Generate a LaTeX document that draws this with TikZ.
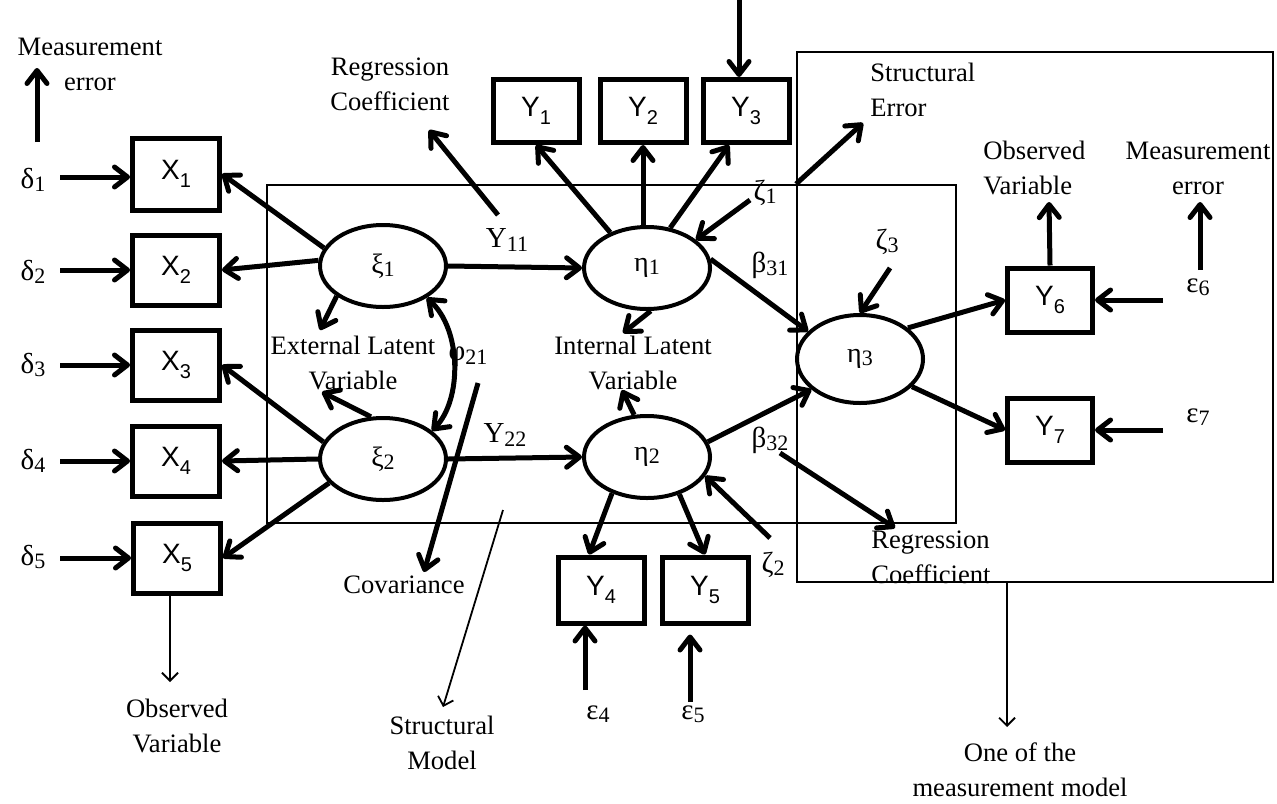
\documentclass[tikz,border=0pt]{standalone}
\usepackage{fontspec}
\setmainfont{Liberation Serif}
\newfontfamily\boxfont{Liberation Sans}
\usetikzlibrary{arrows.meta,shapes.geometric,calc}

% Greek symbol with a small lowered index
\newcommand{\gsub}[2]{#1\raisebox{-0.25ex}{\fontsize{11}{11}\selectfont #2}}
% Variable name in a box, sans serif with subscript
\newcommand{\vsub}[2]{{\boxfont #1\raisebox{-0.55ex}{\fontsize{10}{10}\selectfont #2}}}

\begin{document}
\begin{tikzpicture}[x=0.5pt,y=-0.5pt,
  obs/.style={draw, line width=2.5pt, minimum width=43.5pt, minimum height=35pt, inner sep=0pt, font=\fontsize{14}{15}\selectfont},
  lat/.style={draw, ellipse, line width=2pt, minimum width=63pt, minimum height=41pt, inner sep=0pt, font=\fontsize{14}{15}\selectfont},
  frame/.style={draw, line width=1pt, inner sep=0pt},
  lbl/.style={font=\fontsize{13.3}{17.5}\selectfont, align=center, inner sep=0pt},
  grk/.style={font=\fontsize{14.5}{15}\selectfont, inner sep=0pt},
  arr/.style={line width=2.5pt, -{Straight Barb[round,length=6.5pt,width=10pt]}},
  darr/.style={line width=2.5pt, {Straight Barb[round,length=6.5pt,width=10pt]}-{Straight Barb[round,length=6.5pt,width=10pt]}},
  tarr/.style={line width=0.9pt, -{Straight Barb[length=4pt,width=8pt]}},
]
\useasboundingbox (0,0) rectangle (1277,803);
\fill[white] (0,0) rectangle (1277,803);

% model frames
\node[frame, minimum width=344.5pt, minimum height=169pt] (smodel) at (611.5,354) {};
\node[frame, minimum width=238pt, minimum height=265pt] (mmodel) at (1035,317) {};

% observed variables
\node[obs, minimum height=36pt] (X1) at (176,174) {\vsub{X}{1}};
\node[obs] (X2) at (176,270) {\vsub{X}{2}};
\node[obs] (X3) at (176,365) {\vsub{X}{3}};
\node[obs] (X4) at (176,461) {\vsub{X}{4}};
\node[obs] (X5) at (177,558) {\vsub{X}{5}};
\node[obs, minimum width=43pt, minimum height=31.5pt] (Y1) at (536,111) {\vsub{Y}{1}};
\node[obs, minimum width=43pt, minimum height=31.5pt] (Y2) at (643,111) {\vsub{Y}{2}};
\node[obs, minimum width=43pt, minimum height=31.5pt] (Y3) at (746,111) {\vsub{Y}{3}};
\node[obs, minimum width=43pt, minimum height=33pt] (Y4) at (601,590) {\vsub{Y}{4}};
\node[obs, minimum width=43pt, minimum height=33pt] (Y5) at (705,590) {\vsub{Y}{5}};
\node[obs, minimum width=42.5pt, minimum height=32pt] (Y6) at (1050,300) {\vsub{Y}{6}};
\node[obs, minimum width=42.5pt, minimum height=32pt] (Y7) at (1050,430) {\vsub{Y}{7}};

% latent variables
\node[lat] (xi1) at (383,266) {\gsub{ξ}{1}};
\node[lat] (xi2) at (383,459) {\gsub{ξ}{2}};
\node[lat] (eta1) at (647,268) {\gsub{η}{1}};
\node[lat] (eta2) at (647,457) {\gsub{η}{2}};
\node[lat, minimum height=44pt] (eta3) at (860,359) {\gsub{η}{3}};

% error and coefficient symbols
\node[grk] (d1) at (33,180) {\gsub{δ}{1}};
\node[grk] (d2) at (33,272) {\gsub{δ}{2}};
\node[grk] (d3) at (33,365) {\gsub{δ}{3}};
\node[grk] (d4) at (33,461) {\gsub{δ}{4}};
\node[grk] (d5) at (33,557) {\gsub{δ}{5}};
\node[grk] (g11) at (507,240) {\gsub{Υ}{11}};
\node[grk] (g22) at (505,435) {\gsub{Υ}{22}};
\node[grk] (phi) at (468,357) {\gsub{φ}{21}};
\node[grk] (z1) at (765,193) {\gsub{ζ}{1}};
\node[grk] (z2) at (773,565) {\gsub{ζ}{2}};
\node[grk] (z3) at (887,242) {\gsub{ζ}{3}};
\node[grk] (b31) at (770,265) {\gsub{β}{31}};
\node[grk] (b32) at (770,440) {\gsub{β}{32}};
\node[grk] (e4) at (598,714) {\gsub{ε}{4}};
\node[grk] (e5) at (693,714) {\gsub{ε}{5}};
\node[grk] (e6) at (1198,287) {\gsub{ε}{6}};
\node[grk] (e7) at (1198,417) {\gsub{ε}{7}};

% explanatory texts
\node[lbl] (meL) at (90,64) {Measurement\\error};
\node[lbl] (rcT) at (390,84) {Regression\\Coefficient};
\node[lbl, align=left, anchor=west] (seL) at (870,90) {Structural\\Error};
\node[lbl, align=left, anchor=west] (ovR) at (983,168) {Observed\\Variable};
\node[lbl] (meR) at (1198,168) {Measurement\\error};
\node[lbl] (elv) at (353,363) {External Latent\\Variable};
\node[lbl] (ilv) at (633,363) {Internal Latent\\Variable};
\node[lbl] (cov) at (404,585) {Covariance};
\node[lbl] (ovB) at (177,726) {Observed\\Variable};
\node[lbl] (smL) at (442,743) {Structural\\Model};
\node[lbl, align=left, anchor=west] (rcB) at (871,557) {Regression\\Coefficient};
\node[lbl] (omL) at (1020,770) {One of the\\measurement model};

% free ends of the pointer arrows
\coordinate (da1) at (60,177);
\coordinate (da2) at (60,270);
\coordinate (da3) at (60,365);
\coordinate (da4) at (60,461);
\coordinate (da5) at (60,558);
\coordinate (meA) at (37,142);
\coordinate (meB) at (37,68);
\coordinate (rcA) at (498,215);
\coordinate (rcB1) at (429,130);
\coordinate (seB) at (863,123);
\coordinate (ovTip) at (1049,202);
\coordinate (meRA) at (1200,270);
\coordinate (meRB) at (1200,202);
\coordinate (ea6) at (1163,300);
\coordinate (ea7) at (1163,430);
\coordinate (ea4) at (585,690);
\coordinate (ea5) at (690,702);
\coordinate (za1) at (750,200);
\coordinate (za2) at (770,538);
\coordinate (za3) at (890,268);
\coordinate (topIn) at (739,0);
\coordinate (extA) at (320,330);
\coordinate (extB) at (322,392);
\coordinate (intA) at (623,333);
\coordinate (intB) at (622,390);
\coordinate (bA) at (780,453);
\coordinate (bB) at (895,528);
\coordinate (cvA) at (478,383);
\coordinate (cvB) at (424,572);
\coordinate (smA) at (503,510);
\coordinate (smB) at (443,707);
\coordinate (ovbB) at (170,682);
\coordinate (omB) at (1007,727);

% measurement errors into indicators
\foreach \i in {1,...,5} \draw[arr] (da\i) -- (da\i -| X\i.west);
\draw[arr] (ea6) -- (Y6.east);
\draw[arr] (ea7) -- (Y7.east);
\draw[arr] (ea4) -- (ea4 |- Y4.south);
\draw[arr] (ea5) -- ($(ea5 |- Y5.south)+(0,9)$);
\draw[arr] (topIn) -- (topIn |- Y3.north);

% loadings of the exogenous factors
\draw[arr] (xi1.163) -- (X1.east);
\draw[arr] (xi1.175) -- (X2.east);
\draw[arr] (xi2.164) -- (X3.east);
\draw[arr] (xi2.west) -- (X4.east);
\draw[arr] (xi2.204) -- (X5.east);

% structural paths
\draw[arr] (xi1.east) -- (eta1.west);
\draw[arr] (xi2.east) -- (eta2.west);
\draw[arr] (eta1.8) -- (eta3.152);
\draw[arr] (eta2.14) -- (eta3.212);
\draw[darr] (xi1.-36) .. controls (462,330) and (462,400) .. (xi2.30);

% loadings of the endogenous factors
\draw[arr] (eta1.136) -- (Y1.south);
\draw[arr] (eta1.north -| Y2.south) -- (Y2.south);
\draw[arr] (eta1.60) -- ($(Y3.south)+(-17,0)$);
\draw[arr] (eta2.226) -- ($(Y4.north)+(-12,0)$);
\draw[arr] (eta2.311) -- (Y5.north);
\draw[arr] (eta3.33) -- (Y6.west);
\draw[arr] (eta3.-28) -- (Y7.west);

% structural disturbances
\draw[arr] (za1) -- (eta1.30);
\draw[arr] (za2) -- (eta2.-18);
\draw[arr] (za3) -- (eta3.north);

% pointers to the explanatory texts
\draw[arr] (meA) -- (meB);
\draw[arr] (rcA) -- (rcB1);
\draw[arr] (mmodel.west |- smodel.north) -- (seB);
\draw[arr] (Y6.north) -- (ovTip);
\draw[arr] (meRA) -- (meRB);
\draw[arr] (xi1.213) -- (extA);
\draw[arr] (xi2.106) -- (extB);
\draw[arr] (eta1.-85) -- (intA);
\draw[arr] (eta2.107) -- (intB);
\draw[arr] (bA) -- (bB);
\draw[arr] (cvA) -- (cvB);
\draw[tarr] (smA) -- (smB);
\draw[tarr] ($(X5.south)+(-7,0)$) -- (ovbB);
\draw[tarr] (mmodel.south -| omB) -- (omB);
\end{tikzpicture}
\end{document}
